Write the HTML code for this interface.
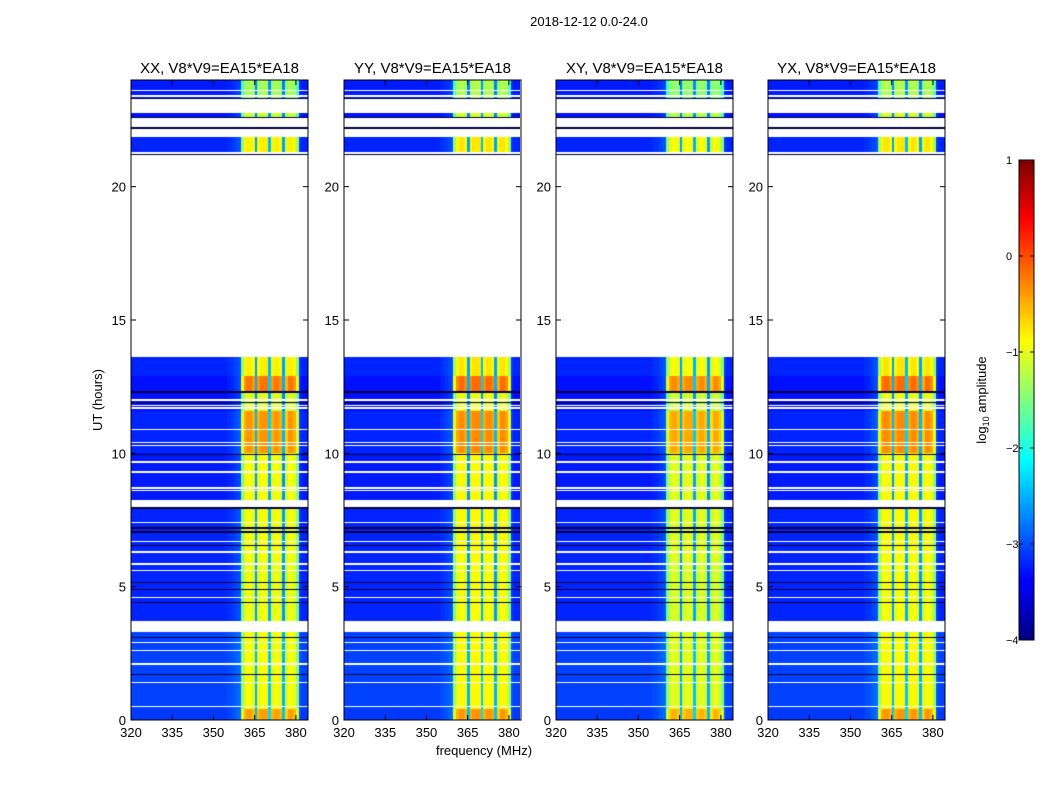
<!DOCTYPE html>
<html><head><meta charset="utf-8"><style>
html,body{margin:0;padding:0;background:#fff;}
#wrap{position:relative;width:1050px;height:800px;font-family:"Liberation Sans",sans-serif;}
canvas{position:absolute;}
svg{position:absolute;left:0;top:0;}
</style></head><body>
<div id="wrap">
<canvas id="c0" width="177" height="640" style="left:131px;top:80px"></canvas>
<canvas id="c1" width="176" height="640" style="left:344px;top:80px"></canvas>
<canvas id="c2" width="177" height="640" style="left:556px;top:80px"></canvas>
<canvas id="c3" width="177" height="640" style="left:768px;top:80px"></canvas>
<canvas id="cb" width="15" height="480" style="left:1019px;top:160px"></canvas>
<svg id="ax" width="1050" height="800"></svg>
</div>
<script>
// ---- data ----
const panelTitles = ["XX, V8*V9=EA15*EA18","YY, V8*V9=EA15*EA18","XY, V8*V9=EA15*EA18","YX, V8*V9=EA15*EA18"];
const panelOffsets = [0, 0.05, -0.1, 0.05];
const freqStart = 320, freqEnd = 384.4;
const xTicks = [320,335,350,365,380];
const yTicks = [0,5,10,15,20];
const cbTicks = [1,0,-1,-2,-3,-4];
// channel shape (64 channels, 320..383 MHz): 0 = background, 1 = full band
const chanShape = [0,0,0,0,0,0,0,0,0,0, 0,0,0,0,0,0,0,0,0,0,
 0,0,0,0,0,0,0,0,0,0, 0,0,0,0,0,0.02,0.03,0.05,0.07,0.1,
 0.75,0.95,1,1,0.95,0.25,0.95,1,1,1, 0.3,0.95,1,1,0.95,0.25,0.9,1,1,0.95, 0.75,0.05,0,0];
// time segments [start h, end h], band level (log10 amp), background level
const segStart = [0,0.4,3.7,6.0,8.25,10.0,11.6,12.3,12.9,21.3,22.6,23.3];
const segEnd   = [0.4,3.3,6.0,8.0,10.0,11.6,12.3,12.9,13.6,21.85,22.75,24];
const segBand  = [-0.4,-0.9,-0.95,-0.9,-0.9,-0.35,-1.0,-0.2,-0.8,-0.8,-1.1,-1.3];
const segBg    = [-3.1,-3.05,-3.2,-3.2,-3.25,-3.2,-3.3,-3.3,-3.2,-3.2,-3.3,-3.25];
const whiteLines = [0.5,1.4,2.1,2.6,2.9,4.6,5.6,5.85,6.3,6.7,7.4,8.6,8.7,9.3,9.67,10.3,10.4,10.9,11.7,11.8,12.0,23.4,23.6];
const darkLines = [1.7,3.1,4.4,4.9,5.14,6.56,7.05,7.2,7.95,9.94,11.9,12.3,21.2,22.2,22.6,23.3];
// ---- helpers ----
const X0s=[131,344,556,768], PW=177, PT=80, PH=640;
function jet(v){v=Math.max(0,Math.min(1,v));const c=t=>Math.round(255*Math.max(0,Math.min(1,1.5-Math.abs(4*v-t))));return [c(3),c(2),c(1)];}
function lv(l){return (l+4)/5;}
function segIdx(h){for(let i=0;i<segStart.length;i++) if(h>=segStart[i]&&h<segEnd[i]) return i; return -1;}
function near(arr,h,w){return arr.some(a=>Math.abs(a-h)<w);}
function yOf(h){return PT+PH*(1-h/24);}
function xOf(f,p){return X0s[p]+PW*(f-freqStart)/(freqEnd-freqStart);}
for(let p=0;p<4;p++){
  const cv=document.getElementById('c'+p), ctx=cv.getContext('2d');
  const W=cv.width, img=ctx.createImageData(W,PH);
  for(let y=0;y<PH;y++){
    const h=24*(1-(y+0.5)/PH), si=segIdx(h);
    const dark=near(darkLines,h,0.02), white=near(whiteLines,h,0.025);
    for(let x=0;x<W;x++){
      const f=freqStart+(x+0.5)/W*(freqEnd-freqStart);
      const ci=Math.min(63,Math.floor(f-320));
      let col=[255,255,255];
      if(dark) col=[0,0,60];
      else if(si>=0 && !white){
        const bg=segBg[si], band=segBand[si]+panelOffsets[p];
        col=jet(lv(bg+chanShape[ci]*(band-bg)));
      }
      const k=(y*W+x)*4; img.data[k]=col[0];img.data[k+1]=col[1];img.data[k+2]=col[2];img.data[k+3]=255;
    }
  }
  ctx.putImageData(img,0,0);
}
// colorbar
(function(){const cv=document.getElementById('cb'),ctx=cv.getContext('2d');
for(let y=0;y<480;y++){const c=jet(1-y/480);ctx.fillStyle=`rgb(${c})`;ctx.fillRect(0,y,15,1);}})();
// axes
const svg=document.getElementById('ax'), NS='http://www.w3.org/2000/svg';
function el(tag,attrs,txt){const e=document.createElementNS(NS,tag);for(const k in attrs)e.setAttribute(k,attrs[k]);if(txt!==undefined)e.textContent=txt;svg.appendChild(e);return e;}
let t=el('text',{x:589,y:26,'text-anchor':'middle','font-size':13,fill:'#000'},'2018-12-12 0.0-24.0');


for(let p=0;p<4;p++){
  const x0=X0s[p];
  let r=el('rect',{x:x0,y:PT,width:PW,height:PH,fill:'none',stroke:'#000','stroke-width':1});
  
  
  let tt=el('text',{x:x0+PW/2,y:73,'text-anchor':'middle','font-size':15,fill:'#000'},panelTitles[p]);
  
  
  xTicks.forEach(v=>{const x=xOf(v,p);
    el('line',{x1:x,x2:x,y1:PT+PH,y2:PT+PH-5,stroke:'#000'});el('line',{x1:x,x2:x,y1:PT,y2:PT+5,stroke:'#000'});
    let l=el('text',{x:x,y:737,'text-anchor':'middle','font-size':13,fill:'#000'},String(v));
    
    });
  yTicks.forEach(v=>{const y=yOf(v);
    el('line',{x1:x0,x2:x0+5,y1:y,y2:y,stroke:'#000'});el('line',{x1:x0+PW,x2:x0+PW-5,y1:y,y2:y,stroke:'#000'});
    let l=el('text',{x:x0-5,y:y+5,'text-anchor':'end','font-size':13,fill:'#000'},String(v));
    
    });
}
t=el('text',{x:102,y:400,'text-anchor':'middle','font-size':13,fill:'#000',transform:'rotate(-90 102 400)'},'UT (hours)');


t=el('text',{x:484,y:755,'text-anchor':'middle','font-size':13,fill:'#000'},'frequency (MHz)');


el('rect',{x:1019,y:160,width:15,height:480,fill:'none',stroke:'#000'});
cbTicks.forEach(v=>{const y=160+480*(1-(v+4)/5);
  el('line',{x1:1034,x2:1030,y1:y,y2:y,stroke:'#000'});el('line',{x1:1019,x2:1023,y1:y,y2:y,stroke:'#000'});
  let l=el('text',{x:1006,y:y+4,'text-anchor':'start','font-size':11,fill:'#000'},v<0?'\u2212'+Math.abs(v):String(v));
  
  });
t=el('text',{x:986,y:400,'text-anchor':'middle','font-size':13,fill:'#000',transform:'rotate(-90 986 400)'});
t.innerHTML='log<tspan font-size="9" dy="3">10</tspan><tspan dy="-3"> amplitude</tspan>';


</script>
</body></html>
